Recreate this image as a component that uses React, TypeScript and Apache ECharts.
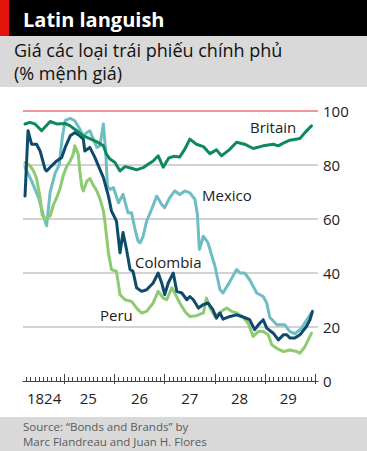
import React, { useEffect, useRef } from "react";
import * as echarts from "echarts";

// Decimal years vs price (% of par)
const britain: [number, number][] = [
  [1824.22, 95.2], [1824.32, 95.8], [1824.42, 95.2], [1824.55, 92.7], [1824.72, 96.1],
  [1824.85, 95.2], [1825.02, 95.4], [1825.12, 94.5], [1825.25, 92.7], [1825.38, 90.8],
  [1825.51, 89.8], [1825.65, 88.6], [1825.78, 87.1], [1825.84, 84.0], [1825.91, 82.2],
  [1826.01, 80.9], [1826.11, 77.8], [1826.21, 79.4], [1826.34, 78.8], [1826.44, 78.2],
  [1826.57, 79.0], [1826.67, 80.3], [1826.77, 81.5], [1826.87, 83.4], [1826.97, 79.2],
  [1827.08, 82.6], [1827.18, 83.2], [1827.30, 83.0], [1827.40, 85.9], [1827.50, 89.6],
  [1827.63, 87.7], [1827.77, 86.8], [1827.90, 84.2], [1828.03, 85.6], [1828.13, 83.4],
  [1828.30, 85.9], [1828.43, 88.4], [1828.59, 87.7], [1828.76, 86.1], [1828.96, 87.1],
  [1829.16, 87.7], [1829.26, 87.1], [1829.36, 88.1], [1829.49, 89.2], [1829.69, 89.8],
  [1829.79, 92.0], [1829.92, 94.5],
];

const mexico: [number, number][] = [
  [1824.22, 79.1], [1824.35, 74.1], [1824.49, 67.9], [1824.58, 61.7], [1824.65, 57.5],
  [1824.72, 70.0], [1824.82, 77.0], [1824.90, 80.0], [1824.96, 90.0], [1825.02, 96.5],
  [1825.12, 97.3], [1825.21, 96.4], [1825.31, 93.3], [1825.38, 90.8], [1825.45, 92.0],
  [1825.51, 92.7], [1825.58, 89.6], [1825.65, 86.5], [1825.71, 87.1], [1825.78, 95.2],
  [1825.83, 83.4], [1825.86, 72.2], [1825.91, 71.0], [1825.98, 71.6], [1826.08, 66.0],
  [1826.17, 69.1], [1826.27, 62.3], [1826.34, 62.3], [1826.41, 56.1], [1826.47, 51.8],
  [1826.51, 51.2], [1826.57, 53.6], [1826.64, 59.2], [1826.74, 63.6], [1826.84, 68.5],
  [1826.94, 65.4], [1827.00, 64.2], [1827.10, 67.9], [1827.20, 70.4], [1827.30, 69.1],
  [1827.40, 70.4], [1827.50, 69.7], [1827.60, 67.3], [1827.65, 61.7], [1827.69, 48.7],
  [1827.77, 53.6], [1827.86, 51.2], [1828.00, 42.5], [1828.10, 33.8], [1828.16, 32.6],
  [1828.30, 36.9], [1828.43, 41.3], [1828.50, 40.0], [1828.59, 40.0], [1828.69, 37.5],
  [1828.83, 32.6], [1828.96, 31.3], [1829.03, 28.9], [1829.09, 23.6], [1829.23, 20.8],
  [1829.39, 20.8], [1829.49, 18.3], [1829.59, 17.5], [1829.72, 19.5], [1829.82, 22.5],
  [1829.92, 25.2],
];

const colombia: [number, number][] = [
  [1824.22, 68.5], [1824.28, 92.7], [1824.35, 87.7], [1824.45, 87.7], [1824.52, 85.2],
  [1824.62, 78.4], [1824.65, 77.8], [1824.75, 79.7], [1824.85, 81.5], [1824.95, 82.8],
  [1825.02, 86.5], [1825.12, 90.8], [1825.21, 92.0], [1825.31, 90.8], [1825.38, 89.6],
  [1825.41, 85.2], [1825.51, 86.5], [1825.61, 82.8], [1825.71, 78.4], [1825.78, 75.3],
  [1825.88, 68.5], [1825.94, 63.0], [1826.04, 59.2], [1826.11, 47.5], [1826.17, 55.0],
  [1826.24, 48.7], [1826.31, 41.3], [1826.37, 40.6], [1826.44, 34.5], [1826.54, 33.2],
  [1826.64, 33.8], [1826.77, 36.3], [1826.87, 40.0], [1826.94, 36.3], [1827.00, 32.0],
  [1827.07, 36.3], [1827.17, 40.0], [1827.24, 33.2], [1827.34, 32.6], [1827.44, 30.1],
  [1827.50, 31.3], [1827.57, 30.1], [1827.67, 27.0], [1827.77, 28.3], [1827.86, 28.9],
  [1827.96, 26.4], [1828.03, 23.3], [1828.10, 25.2], [1828.16, 22.9], [1828.30, 23.9],
  [1828.43, 24.5], [1828.56, 23.7], [1828.69, 22.7], [1828.79, 19.0], [1828.89, 21.4],
  [1828.96, 22.7], [1829.03, 19.6], [1829.16, 17.7], [1829.26, 15.2], [1829.36, 17.1],
  [1829.43, 17.1], [1829.49, 15.9], [1829.59, 15.9], [1829.69, 17.1], [1829.82, 20.2],
  [1829.89, 22.7], [1829.94, 25.8],
];

const peru: [number, number][] = [
  [1824.22, 80.9], [1824.32, 79.7], [1824.39, 77.8], [1824.45, 75.0], [1824.52, 68.0],
  [1824.56, 61.5], [1824.62, 59.9], [1824.72, 61.1], [1824.78, 65.0], [1824.85, 67.9],
  [1824.92, 71.5], [1824.98, 76.0], [1825.05, 79.5], [1825.12, 81.5], [1825.18, 84.0],
  [1825.21, 87.1], [1825.28, 84.0], [1825.31, 77.8], [1825.35, 72.0], [1825.38, 70.4],
  [1825.45, 74.0], [1825.51, 75.0], [1825.58, 72.5], [1825.65, 70.4], [1825.71, 67.5],
  [1825.78, 63.0], [1825.81, 59.0], [1825.84, 54.0], [1825.88, 47.5], [1825.94, 41.3],
  [1826.04, 40.6], [1826.11, 32.0], [1826.21, 30.1], [1826.34, 29.5], [1826.44, 27.0],
  [1826.54, 25.2], [1826.64, 25.8], [1826.77, 28.9], [1826.87, 33.2], [1826.97, 30.7],
  [1827.04, 30.1], [1827.14, 34.5], [1827.20, 32.6], [1827.30, 28.9], [1827.40, 25.8],
  [1827.50, 23.9], [1827.63, 24.2], [1827.77, 25.2], [1827.83, 30.7], [1827.90, 27.0],
  [1828.00, 23.9], [1828.13, 25.8], [1828.23, 27.0], [1828.33, 25.8], [1828.43, 25.2],
  [1828.56, 23.7], [1828.66, 21.4], [1828.76, 16.5], [1828.86, 18.3], [1828.96, 18.3],
  [1829.06, 17.1], [1829.13, 13.4], [1829.23, 12.1], [1829.36, 10.9], [1829.49, 11.5],
  [1829.63, 10.9], [1829.69, 10.3], [1829.79, 12.7], [1829.92, 17.7],
];

const yearTicks = [1825, 1826, 1827, 1828, 1829, 1830];
const yearLabelPos = [1824.6, 1825.48, 1826.5, 1827.5, 1828.49, 1829.46];
const yearLabels = ["1824", "25", "26", "27", "28", "29"];
const valueTicks = [0, 20, 40, 60, 80, 100];

const FONT = "'Open Sans', 'Noto Sans', sans-serif";

export default function App() {
  const ref = useRef<HTMLDivElement>(null);

  useEffect(() => {
    if (!ref.current) return;
    const chart = echarts.init(ref.current, undefined, { renderer: "svg" });

    const months: number[] = [];
    for (let y = 1824; y < 1830; y++) {
      for (let m = 1; m < 12; m++) {
        const v = y + m / 12;
        if (v > 1824.19) months.push(v);
      }
    }

    const xMin = 1824.18;
    const xMax = 1830.05;
    const baseX = {
      type: "value" as const,
      position: "bottom" as const,
      min: xMin,
      max: xMax,
      splitLine: { show: false },
    };

    const labelFor = (v: number) => {
      const i = yearLabelPos.findIndex((p) => Math.abs(p - v) < 0.05);
      return i >= 0 ? yearLabels[i] : "";
    };

    const line = (name: string, data: [number, number][], color: string, z: number) => ({
      name,
      type: "line",
      data,
      showSymbol: false,
      symbol: "none",
      smooth: false,
      z,
      lineStyle: { color, width: 3, join: "round", cap: "round" },
      xAxisIndex: 0,
      yAxisIndex: 0,
    });

    const text = (t: string, x: number, y: number, font: string, fill: string) => ({
      type: "text",
      x,
      y,
      silent: true,
      style: {
        text: t,
        font,
        fill,
        align: "left",
        verticalAlign: "middle",
        textAlign: "left",
        textVerticalAlign: "middle",
      },
    });

    chart.setOption({
      animation: false,
      backgroundColor: "#ffffff",
      grid: { left: 23, right: 49, top: 111, bottom: 70, containLabel: false },
      xAxis: [
        {
          ...baseX,
          axisLine: { show: true, lineStyle: { color: "#444", width: 1 } },
          axisTick: {
            show: true,
            inside: true,
            length: 4,
            customValues: months,
            lineStyle: { color: "#444", width: 1 },
          },
          axisLabel: { show: false },
        },
        {
          ...baseX,
          axisLine: { show: false },
          axisTick: {
            show: true,
            inside: true,
            length: 7,
            customValues: yearTicks,
            lineStyle: { color: "#444", width: 1 },
          },
          axisLabel: { show: false },
        },
        {
          ...baseX,
          axisLine: { show: false },
          axisTick: {
            show: true,
            inside: false,
            length: 3,
            customValues: yearTicks,
            lineStyle: { color: "#444", width: 1 },
          },
          axisLabel: {
            show: true,
            customValues: yearLabelPos,
            formatter: (v: number) => labelFor(v),
            color: "#222",
            fontFamily: FONT,
            fontSize: 15,
            margin: 9,
          },
        },
      ],
      yAxis: {
        type: "value",
        position: "right",
        min: 0,
        max: 100,
        interval: 20,
        axisLine: { show: false },
        axisTick: { show: false },
        axisLabel: {
          color: "#222",
          fontFamily: FONT,
          fontSize: 15,
          margin: 5,
          formatter: (v: number) => (valueTicks.includes(v) ? String(v) : ""),
        },
        splitLine: {
          show: true,
          lineStyle: {
            color: ["rgba(0,0,0,0)", "#c4c4c4", "#c4c4c4", "#c4c4c4", "#c4c4c4", "#ea7576"],
            width: 1.6,
          },
        },
      },
      series: [
        line("Mexico", mexico, "#6ebdc3", 2),
        line("Peru", peru, "#8dca70", 3),
        line("Colombia", colombia, "#0e4b6b", 4),
        line("Britain", britain, "#0c8a5b", 5),
      ],
      graphic: [
        { type: "rect", shape: { x: 0, y: 0, width: 367, height: 36 }, style: { fill: "#000" }, silent: true },
        { type: "rect", shape: { x: 0, y: 0, width: 9, height: 36 }, style: { fill: "#e3120b" }, silent: true },
        { type: "rect", shape: { x: 0, y: 36, width: 367, height: 51 }, style: { fill: "#d9d9d9" }, silent: true },
        { type: "rect", shape: { x: 0, y: 417, width: 367, height: 34 }, style: { fill: "#d9d9d9" }, silent: true },
        text("Latin languish", 23, 19, `bold 20px ${FONT}`, "#ffffff"),
        text("Giá các loại trái phiếu chính phủ", 14, 50, `18px ${FONT}`, "#111"),
        text("(% mệnh giá)", 14, 73, `18px ${FONT}`, "#111"),
        text("Britain", 250, 127, `15px ${FONT}`, "#222"),
        text("Mexico", 202, 195, `15px ${FONT}`, "#222"),
        text("Colombia", 135, 262, `15px ${FONT}`, "#222"),
        text("Peru", 100, 315, `15px ${FONT}`, "#222"),
        text("Source: “Bonds and Brands” by", 23, 426, `11.5px ${FONT}`, "#5a5a5a"),
        text("Marc Flandreau and Juan H. Flores", 23, 441, `11.5px ${FONT}`, "#5a5a5a"),
      ],
    });

    return () => chart.dispose();
  }, []);

  return (
    <div
      ref={ref}
      style={{ position: "fixed", left: 0, top: 0, width: 367, height: 451 }}
    />
  );
}
